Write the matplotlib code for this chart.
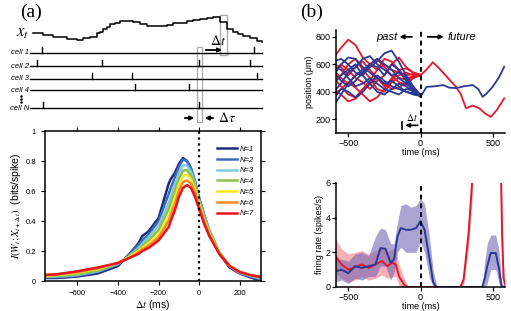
import matplotlib
matplotlib.use('Agg')
import matplotlib.pyplot as plt
import numpy as np

plt.rcParams['font.family'] = ['Liberation Sans', 'DejaVu Sans']
plt.rcParams['mathtext.fontset'] = 'stix'

W, H = 511, 311

# ---- panel (a) schematic (pixel units) ----
trace_x = [33, 43, 53, 67, 77, 83, 90, 97, 100, 103, 107, 110, 115, 120, 127, 133, 140, 147,
           153, 160, 167, 173, 180, 187, 193, 200, 207, 213, 220, 227, 233, 238, 243, 250, 257, 262]
trace_y = [33, 35, 37, 39, 39.5, 38, 36.5, 33, 31.5, 29, 26.5, 24, 22.5, 21, 20.5, 21.5, 24, 25.5,
           26, 25.5, 24.5, 23, 22.5, 21, 19.5, 18.5, 17.5, 16.5, 22, 29, 32, 33.5, 36, 38, 41, 42]
cell_names = ['cell 1', 'cell 2', 'cell 3', 'cell 4', 'cell N']
cell_rows = [53, 66, 79, 90, 108]
cell_spikes = [[42, 254], [37, 102, 199, 250], [92, 132, 257], [135, 189], [43, 199]]

# ---- panel (a) information curves ----
dt = [-760, -700, -600, -500, -400, -350, -300, -280, -250, -200, -150, -140, -120, -100, -80,
      -60, -40, -20, 0, 25, 50, 100, 150, 200, 250, 310]
info = {
    'N=1': [0.02, 0.02, 0.03, 0.05, 0.10, 0.17, 0.25, 0.30, 0.33, 0.42, 0.65, 0.68, 0.72, 0.78, 0.82,
            0.80, 0.75, 0.66, 0.55, 0.44, 0.33, 0.18, 0.09, 0.05, 0.025, 0.0],
    'N=2': [0.025, 0.025, 0.035, 0.06, 0.11, 0.17, 0.24, 0.27, 0.31, 0.40, 0.58, 0.62, 0.69, 0.76, 0.81,
            0.80, 0.75, 0.66, 0.55, 0.44, 0.34, 0.19, 0.10, 0.055, 0.03, 0.01],
    'N=3': [0.03, 0.03, 0.04, 0.065, 0.115, 0.16, 0.22, 0.25, 0.29, 0.37, 0.52, 0.56, 0.64, 0.72, 0.77,
            0.77, 0.73, 0.65, 0.54, 0.43, 0.34, 0.19, 0.10, 0.055, 0.035, 0.015],
    'N=4': [0.03, 0.035, 0.045, 0.07, 0.12, 0.16, 0.21, 0.235, 0.27, 0.34, 0.48, 0.52, 0.60, 0.68, 0.735,
            0.74, 0.70, 0.63, 0.53, 0.42, 0.33, 0.19, 0.10, 0.06, 0.04, 0.02],
    'N=5': [0.035, 0.04, 0.055, 0.08, 0.12, 0.155, 0.20, 0.22, 0.25, 0.31, 0.43, 0.47, 0.55, 0.64, 0.70,
            0.71, 0.68, 0.61, 0.52, 0.41, 0.32, 0.185, 0.10, 0.06, 0.04, 0.025],
    'N=6': [0.04, 0.045, 0.06, 0.085, 0.12, 0.15, 0.19, 0.21, 0.235, 0.29, 0.40, 0.44, 0.51, 0.60, 0.66,
            0.67, 0.65, 0.59, 0.50, 0.40, 0.31, 0.18, 0.10, 0.06, 0.04, 0.025],
    'N=7': [0.04, 0.045, 0.065, 0.09, 0.12, 0.15, 0.18, 0.20, 0.22, 0.27, 0.36, 0.40, 0.47, 0.56, 0.62,
            0.64, 0.62, 0.56, 0.48, 0.38, 0.30, 0.18, 0.10, 0.06, 0.04, 0.025],
}
info_colors = ['#1e2a7e', '#3b6dbf', '#7fcbe0', '#8cc152', '#f6e627', '#ef8a25', '#e8141f']

# ---- panel (b) trajectories ----
t_past = [-600, -550, -500, -450, -400, -350, -300, -250, -200, -150, -100, -50, 0]
red_past = [
    [650, 720, 780, 740, 650, 600, 560, 600, 560, 540, 520, 530, 520],
    [500, 440, 380, 360, 420, 480, 560, 640, 620, 560, 500, 510, 520],
    [550, 600, 560, 500, 470, 420, 480, 520, 600, 650, 580, 540, 525],
    [420, 380, 330, 350, 400, 460, 500, 460, 420, 430, 470, 500, 520],
    [600, 580, 520, 580, 620, 560, 500, 440, 480, 560, 570, 540, 520],
    [480, 520, 600, 640, 560, 500, 420, 400, 470, 500, 490, 510, 515],
    [380, 420, 470, 430, 380, 330, 360, 420, 500, 520, 540, 520, 520],
    [560, 500, 460, 520, 540, 600, 640, 580, 520, 470, 450, 500, 525],
]
blue_past = [
    [300, 380, 460, 520, 560, 600, 640, 600, 560, 500, 460, 420, 370],
    [520, 600, 650, 640, 580, 540, 500, 460, 480, 440, 400, 390, 370],
    [620, 640, 600, 540, 520, 580, 620, 680, 700, 620, 520, 440, 375],
    [350, 420, 400, 360, 400, 460, 520, 480, 440, 420, 400, 380, 370],
    [540, 480, 440, 480, 540, 600, 580, 520, 600, 560, 480, 400, 365],
    [460, 520, 560, 600, 520, 460, 400, 380, 420, 460, 440, 400, 370],
    [580, 560, 500, 440, 460, 500, 460, 420, 400, 380, 420, 410, 368],
    [400, 460, 540, 580, 640, 660, 600, 560, 520, 540, 500, 420, 372],
]
t_red_future = [0, 40, 85, 130, 190, 246, 280, 315, 360, 407, 450, 487, 530, 580]
red_future = [520, 560, 615, 570, 500, 436, 380, 280, 300, 280, 240, 217, 270, 353]
t_blue_future = [0, 42, 100, 157, 200, 246, 300, 361, 400, 430, 460, 499, 540, 580]
blue_future = [363, 436, 440, 449, 430, 427, 440, 449, 420, 363, 390, 436, 500, 583]

# ---- panel (b) firing rate ----
t_blue = [-589, -547, -500, -453, -406, -359, -312, -277, -242, -207, -183, -160, -136, -101, -66,
          -31, 0, 28, 63, 87, 110, 130, 427, 445, 462, 486, 521, 545, 561, 580, 600]
rate_blue = [0.9, 1.0, 0.8, 1.2, 1.1, 1.2, 1.3, 2.25, 2.2, 1.4, 1.6, 2.9, 3.4, 3.3, 3.3,
             3.4, 3.8, 3.3, 1.6, 0.3, 0.0, 0.0, 0.0, 0.5, 1.2, 1.96, 1.96, 1.0, 0.0, 0.0, 0.0]
hi_blue = [1.6, 1.6, 1.5, 1.9, 2.0, 1.8, 2.9, 3.4, 3.3, 2.5, 2.5, 3.7, 4.7, 4.8, 4.6,
           4.7, 5.1, 4.8, 2.8, 1.0, 0.1, 0.0, 0.0, 1.5, 2.5, 3.0, 3.0, 2.0, 0.3, 0.0, 0.0]
lo_blue = [0.3, 0.4, 0.2, 0.5, 0.4, 0.6, 0.6, 1.2, 1.2, 0.4, 0.8, 2.0, 2.3, 2.0, 2.0,
           2.0, 2.6, 2.0, 0.5, 0.0, 0.0, 0.0, 0.0, 0.0, 0.2, 1.0, 1.0, 0.2, 0.0, 0.0, 0.0]
t_red = [-589, -547, -500, -453, -406, -359, -312, -265, -230, -195, -171, -148, -113, -89, -60,
         275, 298, 333, 357, 375, 540, 556, 565, 575, 590, 600]
rate_red = [1.8, 1.3, 1.0, 1.15, 1.3, 1.1, 1.3, 1.5, 1.2, 1.4, 1.3, 0.6, 0.13, 0.0, 0.0,
            0.0, 0.4, 3.1, 6.0, 9.0, 9.0, 7.0, 3.0, 0.5, 0.0, 0.0]
hi_red = [2.8, 2.2, 1.9, 2.0, 2.1, 1.9, 2.1, 2.3, 2.0, 2.2, 2.1, 1.3, 0.5, 0.1, 0.0,
          0.0, 0.8, 4.0, 7.0, 9.0, 9.0, 8.0, 4.0, 1.2, 0.1, 0.0]
lo_red = [0.8, 0.5, 0.3, 0.4, 0.6, 0.4, 0.5, 0.7, 0.5, 0.6, 0.6, 0.1, 0.0, 0.0, 0.0,
          0.0, 0.1, 2.3, 5.0, 9.0, 9.0, 6.0, 2.0, 0.0, 0.0, 0.0]

RED = '#e3172b'
BLUE = '#2a3995'


def px_axes(fig, x0, y0, x1, y1):
    return fig.add_axes([x0 / W, 1 - y1 / H, (x1 - x0) / W, (y1 - y0) / H])


fig = plt.figure(figsize=(W / 100, H / 100), dpi=100)

# schematic
axs = px_axes(fig, 0, 0, 270, 130)
axs.set_xlim(0, 270)
axs.set_ylim(130, 0)
axs.axis('off')
axs.step(trace_x, trace_y, where='post', color='black', lw=1.1)
axs.text(16, 33, '$x_t$', fontsize=12, va='center', ha='left')
for name, row, spikes in zip(cell_names, cell_rows, cell_spikes):
    axs.plot([30, 262], [row, row], color='black', lw=1.0)
    for s in spikes:
        axs.plot([s, s], [row, row - 6], color='black', lw=1.0)
    axs.text(29, row, name, fontsize=5.5, style='italic', ha='right', va='center')
axs.plot([21, 21, 21], [96, 99, 102], 'o', color='black', ms=0.8)
axs.add_patch(plt.Rectangle((197, 47), 5, 75, fill=False, ec='#aaaaaa', lw=0.9))
axs.add_patch(plt.Rectangle((220, 15), 7, 40, fill=False, ec='#aaaaaa', lw=0.9))
axs.annotate('', xy=(225, 50), xytext=(203, 50),
             arrowprops=dict(arrowstyle='-|>', color='black', lw=1.3, mutation_scale=6))
axs.text(210, 41, r'$\Delta t$', fontsize=10, ha='left', va='center')
axs.annotate('', xy=(197, 118), xytext=(182, 118),
             arrowprops=dict(arrowstyle='-|>', color='black', lw=1.3, mutation_scale=6))
axs.annotate('', xy=(202, 118), xytext=(216, 118),
             arrowprops=dict(arrowstyle='-|>', color='black', lw=1.3, mutation_scale=6))
axs.text(218, 118, r'$\Delta\tau$', fontsize=10, ha='left', va='center')
fig.text(20 / W, 1 - 12 / H, '(a)', fontsize=14, family='Liberation Serif', ha='left', va='center')
fig.text(300 / W, 1 - 12 / H, '(b)', fontsize=14, family='Liberation Serif', ha='left', va='center')

# information curves
ax1 = px_axes(fig, 45, 131, 261, 281)
for (lab, vals), c in zip(info.items(), info_colors):
    ax1.plot(dt, vals, color=c, lw=1.8, label=lab)
ax1.axvline(0, color='black', ls=':', lw=1.6)
ax1.set_xlim(-760, 305)
ax1.set_ylim(0, 1)
ax1.set_xticks([-600, -400, -200, 0, 200])
ax1.set_yticks([0, 0.2, 0.4, 0.6, 0.8, 1])
ax1.set_yticklabels(['0', '0.2', '0.4', '0.6', '0.8', '1'])
ax1.tick_params(labelsize=5.5, length=3, width=0.8, direction='out', top=True)
ax1.tick_params(axis='y', which='both', right=True)
for sp in ax1.spines.values():
    sp.set_linewidth(1.1)
ax1.set_xlabel(r'$\Delta t$ (ms)', fontsize=7.5, labelpad=1)
ax1.set_ylabel(r'$I(W_t;X_{t+\Delta t})$  (bits/spike)', fontsize=7.5, labelpad=2)
leg = ax1.legend(loc='upper right', bbox_to_anchor=(1.0, 0.95), frameon=False,
                 fontsize=5.5, handlelength=2.6, labelspacing=0.45, handletextpad=0.4)
for t in leg.get_texts():
    t.set_style('italic')

# trajectories
ax2 = px_axes(fig, 336, 30, 505, 133)
for tr in red_past:
    ax2.plot(t_past, tr, color=RED, lw=1.3)
for tr in blue_past:
    ax2.plot(t_past, tr, color=BLUE, lw=1.3)
ax2.plot(t_red_future, red_future, color=RED, lw=1.3)
ax2.plot(t_blue_future, blue_future, color=BLUE, lw=1.3)
ax2.axvline(0, color='black', ls=(0, (2.5, 2)), lw=1.4)
ax2.set_xlim(-585, 585)
ax2.set_ylim(100, 850)
ax2.set_xticks([-500, 0, 500])
ax2.set_yticks([200, 400, 600, 800])
ax2.text(-160, 800, 'past', fontsize=8, style='italic', ha='right', va='center')
ax2.text(190, 800, 'future', fontsize=8, style='italic', ha='left', va='center')
ax2.annotate('', xy=(-165, 800), xytext=(-40, 800),
             arrowprops=dict(arrowstyle='-|>', color='black', lw=1.3, mutation_scale=6))
ax2.annotate('', xy=(180, 800), xytext=(30, 800),
             arrowprops=dict(arrowstyle='-|>', color='black', lw=1.3, mutation_scale=6))
ax2.annotate('', xy=(-125, 156), xytext=(0, 156),
             arrowprops=dict(arrowstyle='-|>', color='black', lw=1.2, mutation_scale=6))
ax2.plot([-125, -125], [130, 182], color='black', lw=1.2)
ax2.text(-60, 210, r'$\Delta t$', fontsize=7, ha='center', va='center')
ax2.set_ylabel('position (μm)', fontsize=6.5, labelpad=1)
ax2.set_xlabel('time (ms)', fontsize=6.5, labelpad=0)

# firing rate
ax3 = px_axes(fig, 336, 183, 505, 287)
ax3.fill_between(t_red, lo_red, hi_red, color='#f27d86', alpha=0.6, lw=0)
ax3.fill_between(t_blue, lo_blue, hi_blue, color='#7466b4', alpha=0.6, lw=0)
ax3.plot(t_red, rate_red, color=RED, lw=1.4)
ax3.plot(t_blue, rate_blue, color=BLUE, lw=1.4)
ax3.axvline(0, color='black', ls=(0, (2.5, 2)), lw=1.4)
ax3.set_xlim(-585, 585)
ax3.set_ylim(0, 6)
ax3.set_xticks([-500, 0, 500])
ax3.set_yticks([0, 2, 4, 6])
ax3.set_ylabel('firing rate (spikes/s)', fontsize=6.5, labelpad=1)
ax3.set_xlabel('time (ms)', fontsize=6.5, labelpad=0)

for ax in (ax2, ax3):
    ax.spines['top'].set_visible(False)
    ax.spines['right'].set_visible(False)
    ax.spines['left'].set_linewidth(1.1)
    ax.spines['bottom'].set_linewidth(1.1)
    ax.tick_params(labelsize=6.5, length=3, width=0.9, pad=1)

fig.savefig('out.png', dpi=100)
